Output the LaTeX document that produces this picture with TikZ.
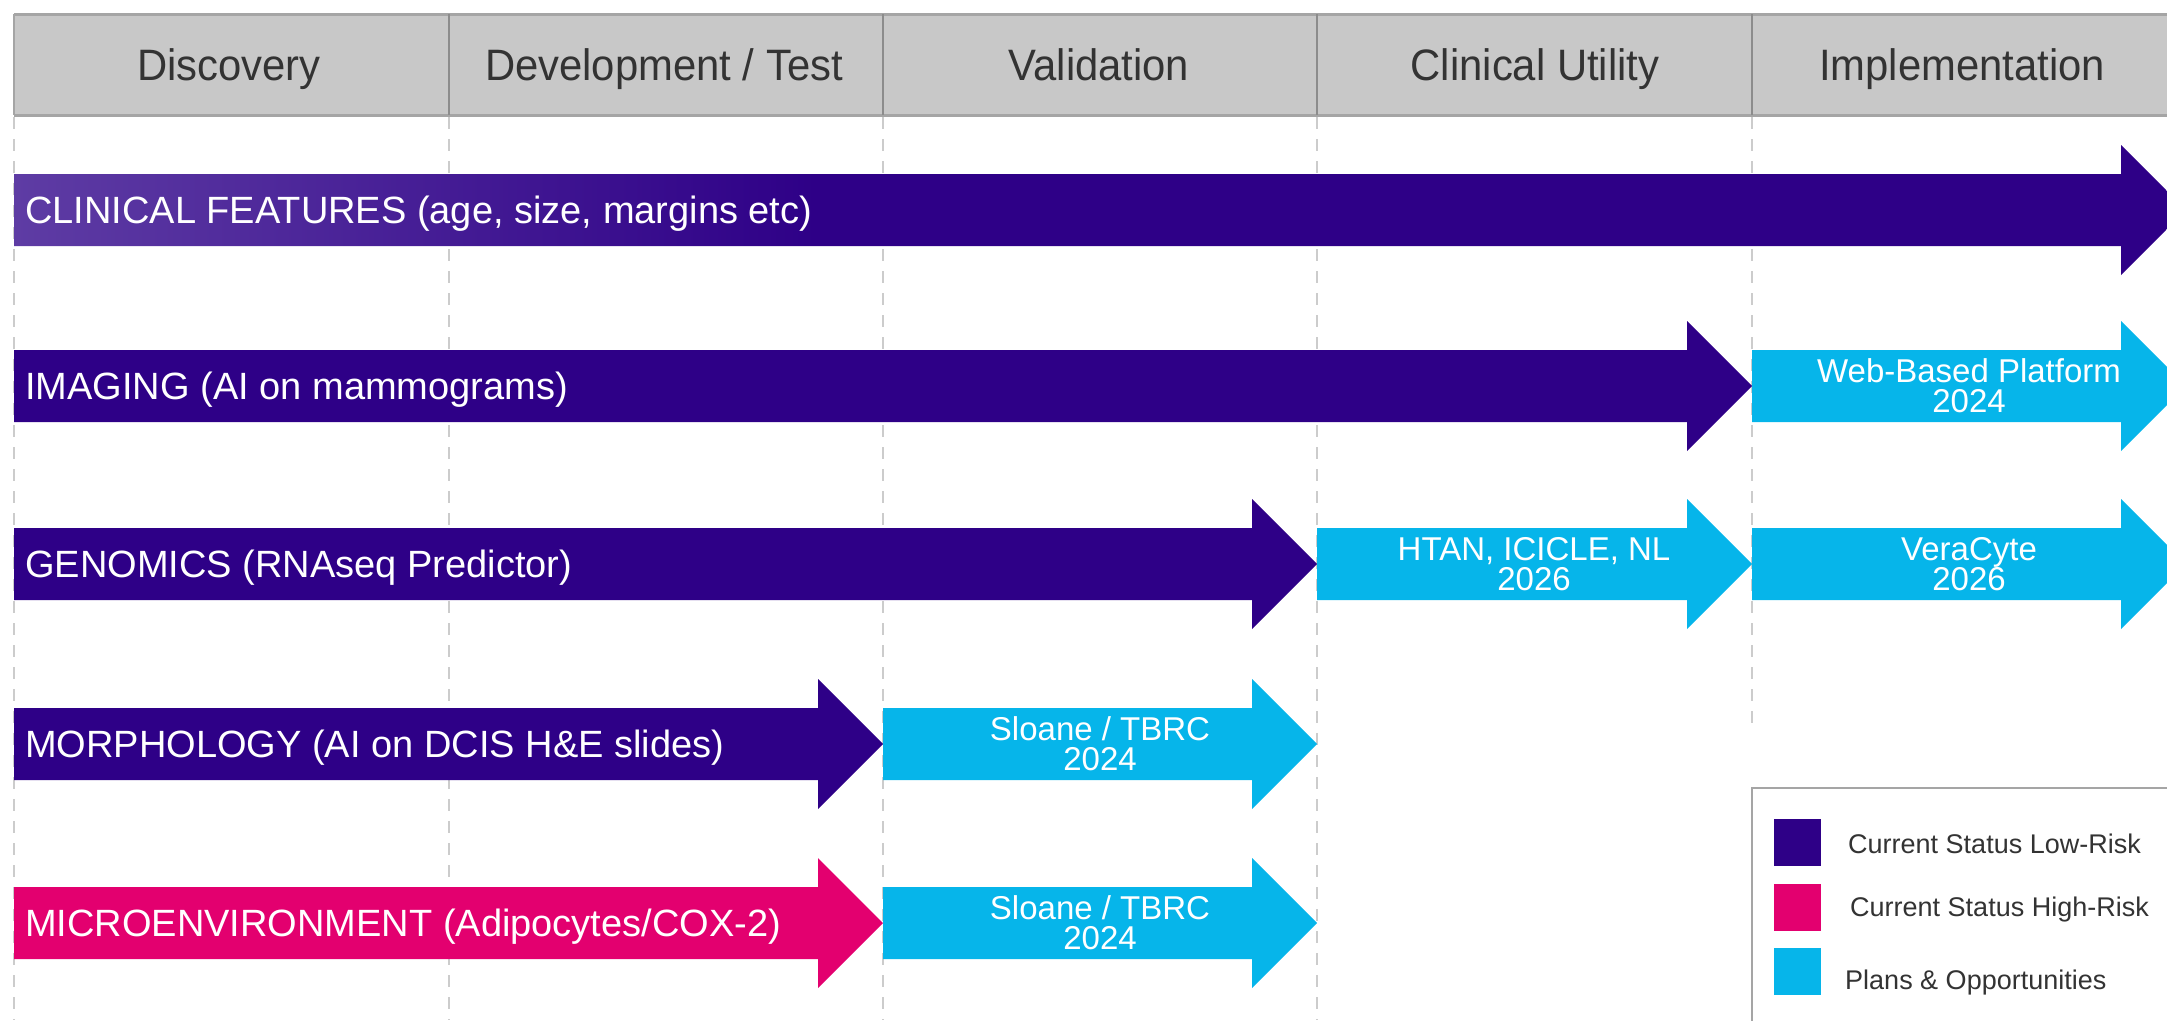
\documentclass[tikz,border=0pt]{standalone}
\usepackage{fontspec}
\setmainfont{Liberation Sans}
\newfontfamily\headfont[FakeStretch=0.95]{Liberation Sans}
\definecolor{lowrisk}{HTML}{2E0087}
\definecolor{highrisk}{HTML}{E3006F}
\definecolor{planblue}{HTML}{06B5EA}
\definecolor{cfleft}{HTML}{5E3CA4}
\definecolor{headfill}{HTML}{C8C8C8}
\definecolor{headline}{HTML}{A5A5A5}
\definecolor{headdiv}{HTML}{8C8C8C}
\definecolor{guidegray}{HTML}{CCCCCC}
\definecolor{textgray}{HTML}{333333}
\pgfdeclarehorizontalshading{cfshade}{100bp}{color(0bp)=(cfleft); color(25bp)=(cfleft);
  color(43.5bp)=(lowrisk); color(100bp)=(lowrisk)}
\newcommand\rarrow[4]{% #1 start x, #2 tip x, #3 centre y, #4 style
  \path[#4] (#1,#3-36) -- (#2-65,#3-36) -- (#2-65,#3-65) -- (#2,#3)
    -- (#2-65,#3+65) -- (#2-65,#3+36) -- (#1,#3+36) -- cycle;}
\begin{document}
\begin{tikzpicture}[x=1pt,y=-1pt,
  guide/.style={draw=guidegray,line width=2pt,dash pattern=on 12pt off 10pt},
  headtext/.style={text=textgray,font=\headfont\fontsize{44}{48}\selectfont,inner sep=0pt,anchor=base},
  plabel/.style={text=white,font=\fontsize{38}{42}\selectfont,inner sep=0pt,anchor=base west},
  blabel/.style={text=white,font=\fontsize{33}{30}\selectfont,inner sep=0pt,align=center},
  legsq/.style={minimum size=47pt,inner sep=0pt},
  legtext/.style={text=textgray,font=\fontsize{27}{30}\selectfont,inner sep=0pt,anchor=base west},
  purp/.style={fill=lowrisk},
  grad/.style={shading=cfshade},
  pink/.style={fill=highrisk},
  blue/.style={fill=planblue}]
\useasboundingbox (0,0) rectangle (2167,1020);
\clip (0,0) rectangle (2167,1020);
% dashed column guides
\foreach \gx/\gy in {14/1020,449/1020,883/1020,1317/1020,1752/728}
  \draw[guide] (\gx,117) -- (\gx,\gy);
% header band
\fill[headfill] (14,14) rectangle (2190,115);
\draw[headline,line width=3pt] (14,14) -- (2190,14);
\draw[headline,line width=3pt] (14,115) -- (2190,115);
\draw[headline,line width=2pt] (14,14) -- (14,115);
\foreach \dx in {449,883,1317,1752}
  \draw[headdiv,line width=1.5pt] (\dx,14) -- (\dx,115);
\node[headtext] (h1) at (229,80) {Discovery};
\node[headtext] (h2) at (664,80) {Development / Test};
\node[headtext] (h3) at (1099,80) {Validation};
\node[headtext] (h4) at (1535,80) {Clinical Utility};
\node[headtext] (h5) at (1962,80) {Implementation};
% row 1: clinical features (shaded)
\rarrow{14}{2186}{210}{grad}
\node[plabel] (cf) at (25,223.5) {CLINICAL FEATURES (age, size, margins etc)};
% row 2: imaging
\rarrow{14}{1752}{386}{purp}
\rarrow{1752}{2186}{386}{blue}
\node[plabel] (im) at (25,399.5) {IMAGING (AI on mammograms)};
\node[blabel] (web) at (1969,386) {Web-Based Platform\\2024};
% row 3: genomics
\rarrow{14}{1317}{564}{purp}
\rarrow{1317}{1752}{564}{blue}
\rarrow{1752}{2186}{564}{blue}
\node[plabel] (gen) at (25,577.5) {GENOMICS (RNAseq Predictor)};
\node[blabel] (htan) at (1534,564) {HTAN, ICICLE, NL\\2026};
\node[blabel] (vera) at (1969,564) {VeraCyte\\2026};
% row 4: morphology
\rarrow{14}{883}{744}{purp}
\rarrow{883}{1317}{744}{blue}
\node[plabel] (mor) at (25,757.5) {MORPHOLOGY (AI on DCIS H\&E slides)};
\node[blabel] (sl1) at (1100,744) {Sloane / TBRC\\2024};
% row 5: microenvironment
\rarrow{14}{883}{923}{pink}
\rarrow{883}{1317}{923}{blue}
\node[plabel] (mic) at (25,936.5) {MICROENVIRONMENT (Adipocytes/COX-2)};
\node[blabel] (sl2) at (1100,923) {Sloane / TBRC\\2024};
% legend
\draw[headline,line width=2.5pt,fill=white] (1752,788) rectangle (2200,1040);
\node[legsq,fill=lowrisk] (k1) at (1797.5,842.5) {};
\node[legsq,fill=highrisk] (k2) at (1797.5,907) {};
\node[legsq,fill=planblue] (k3) at (1797.5,971) {};
\node[legtext] (t1) at (1848,853.5) {Current Status Low-Risk};
\node[legtext] (t2) at (1850,916.5) {Current Status High-Risk};
\node[legtext] (t3) at (1845,989.5) {Plans \& Opportunities};
\end{tikzpicture}
\end{document}
